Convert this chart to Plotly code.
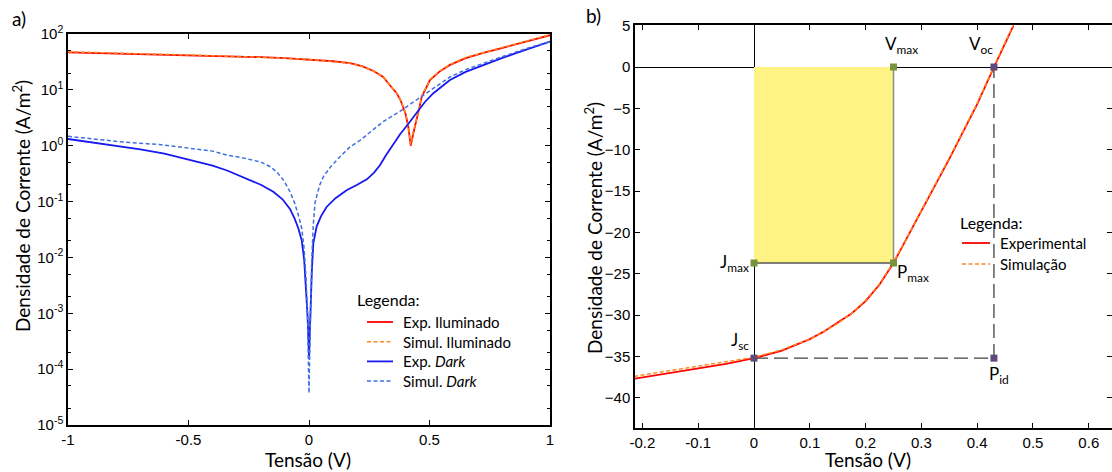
import plotly.graph_objects as go

# ---------------- Panel a) data (log scale) ----------------
v_exp_il = [-1, -0.9, -0.8, -0.7, -0.6, -0.5, -0.4, -0.3, -0.2, -0.1, 0, 0.1, 0.17, 0.22, 0.27, 0.308,
            0.34, 0.364, 0.38, 0.391, 0.40, 0.412, 0.422, 0.432, 0.447, 0.458, 0.468, 0.485, 0.502,
            0.54, 0.585, 0.65, 0.723, 0.8, 0.862, 0.93, 1.0]
j_exp_il = [47, 46, 45, 43.5, 42.5, 41.5, 40.5, 39.5, 38.5, 37, 35, 32.5, 30, 26.5, 21.5, 17,
            11.5, 8.7, 6.5, 5.0, 3.8, 2.2, 1.0, 1.6, 2.9, 4.8, 7.6, 11, 15,
            21, 28, 37, 46, 56, 66, 78, 95]

v_sim_il = [-1, -0.9, -0.8, -0.7, -0.6, -0.5, -0.4, -0.3, -0.2, -0.1, 0, 0.1, 0.17, 0.22, 0.27, 0.308,
            0.34, 0.364, 0.38, 0.391, 0.40, 0.412, 0.422, 0.432, 0.447, 0.458, 0.468, 0.485, 0.502,
            0.54, 0.585, 0.65, 0.723, 0.8, 0.862, 0.93, 1.0]
j_sim_il = [48, 46.5, 45.5, 44.5, 43.5, 42, 41, 40, 38.5, 37, 35, 32.5, 30, 26.5, 21.5, 17,
            11.5, 8.8, 6.6, 5.1, 3.9, 2.3, 1.05, 1.7, 3.0, 4.9, 7.8, 11.3, 15.3,
            21.5, 28.5, 38, 47, 57, 67, 80, 97]

v_exp_dk = [-1, -0.9, -0.8, -0.7, -0.6, -0.5, -0.4, -0.34, -0.27, -0.2, -0.148, -0.11, -0.079, -0.06,
            -0.044, -0.03, -0.02, -0.012, -0.006, -0.002, 0, 0.003, 0.007, 0.012, 0.018, 0.025, 0.032,
            0.05, 0.073, 0.11, 0.156, 0.2, 0.24, 0.27, 0.295, 0.32, 0.345, 0.378, 0.41, 0.447, 0.48,
            0.516, 0.55, 0.585, 0.65, 0.723, 0.8, 0.862, 0.93, 1.0]
j_exp_dk = [1.32, 1.15, 1.0, 0.86, 0.72, 0.57, 0.44, 0.36, 0.27, 0.2, 0.15, 0.11, 0.074, 0.05,
            0.033, 0.02, 0.009, 0.003, 0.0009, 0.0003, 0.00015, 0.0004, 0.0015, 0.006, 0.018, 0.028, 0.036,
            0.055, 0.08, 0.115, 0.16, 0.2, 0.25, 0.33, 0.45, 0.68, 0.98, 1.6, 2.4, 4.0, 6.0,
            8.7, 11.5, 15, 21, 28, 37, 46, 58, 73]

v_sim_dk = [-1, -0.9, -0.76, -0.62, -0.48, -0.4, -0.34, -0.27, -0.2, -0.16, -0.134, -0.105, -0.079,
            -0.06, -0.044, -0.03, -0.02, -0.012, -0.006, -0.002, 0, 0.002, 0.006, 0.011, 0.018, 0.025,
            0.035, 0.045, 0.06, 0.09, 0.129, 0.17, 0.212, 0.253, 0.308, 0.38, 0.447, 0.52, 0.585, 0.65,
            0.723, 0.8, 0.862, 0.93, 1.0]
j_sim_dk = [1.47, 1.32, 1.15, 1.05, 0.9, 0.8, 0.68, 0.6, 0.51, 0.42, 0.34, 0.24, 0.15,
            0.095, 0.057, 0.033, 0.014, 0.004, 0.0009, 0.00012, 0.000037, 0.00012, 0.0012, 0.008, 0.04, 0.095,
            0.14, 0.2, 0.28, 0.42, 0.64, 0.95, 1.25, 1.75, 2.7, 4.2, 6.6, 11, 17, 23,
            30, 39, 48, 60, 73]

# ---------------- Panel b) data (linear) ----------------
v_exp_b = [-0.215, -0.15, -0.1, -0.05, 0, 0.05, 0.1, 0.125, 0.15, 0.175, 0.2, 0.225, 0.25, 0.275, 0.3,
           0.35, 0.4, 0.43, 0.465]
j_exp_b = [-37.7, -37.0, -36.5, -35.9, -35.2, -34.3, -32.9, -32.0, -30.9, -29.8, -28.3, -26.3, -23.7, -20.6,
           -17.4, -11.1, -4.5, 0, 5.0]
v_sim_b = [-0.215, -0.15, -0.1, -0.05, 0, 0.05, 0.1, 0.125, 0.15, 0.175, 0.2, 0.225, 0.25, 0.275, 0.3,
           0.35, 0.4, 0.43, 0.465]
j_sim_b = [-37.4, -36.7, -36.2, -35.7, -35.1, -34.2, -32.9, -32.0, -31.0, -29.8, -28.2, -26.2, -23.6, -20.5,
           -17.3, -11.0, -4.4, 0.1, 5.1]

v_max, j_max = 0.25, -23.7
v_oc, j_sc = 0.43, -35.2

left_xticks = [-1, -0.5, 0, 0.5, 1]
left_xtext = ["-1", "-0.5", "0", "0.5", "1"]
left_yticks = [1e-5, 1e-4, 1e-3, 1e-2, 1e-1, 1, 10, 100]
left_ytext = ["10<sup>-5</sup>", "10<sup>-4</sup>", "10<sup>-3</sup>", "10<sup>-2</sup>",
              "10<sup>-1</sup>", "10<sup>0</sup>", "10<sup>1</sup>", "10<sup>2</sup>"]
right_xticks = [-0.2, -0.1, 0, 0.1, 0.2, 0.3, 0.4, 0.5, 0.6]
right_xtext = ["-0.2", "-0.1", "0", "0.1", "0.2", "0.3", "0.4", "0.5", "0.6"]
right_yticks = [5, 0, -5, -10, -15, -20, -25, -30, -35, -40]

legend_a_names = ["Exp. Iluminado", "Simul. Iluminado", "Exp. <i>Dark</i>", "Simul. <i>Dark</i>"]
legend_b_names = ["Experimental", "Simulação"]

RED = "#FF0000"
ORANGE = "#FF8A1E"
BLUE = "#1818F0"
LBLUE = "#3F6FE0"
GREEN = "#77933C"
PURPLE = "#5F4A7B"
SIMDASH = "4px,2.5px"
TXT = "Lato"
TICKF = dict(family="Liberation Sans", size=15, color="black")
W, H = 1112, 472


def px(x):
    return x / W


def py(y):
    return 1 - y / H


fig = go.Figure()

# Panel a traces
fig.add_trace(go.Scatter(x=v_exp_il, y=j_exp_il, mode="lines", name=legend_a_names[0],
                         line=dict(color=RED, width=1.8), xaxis="x", yaxis="y"))
fig.add_trace(go.Scatter(x=v_sim_il, y=j_sim_il, mode="lines", name=legend_a_names[1],
                         line=dict(color=ORANGE, width=1.5, dash=SIMDASH), xaxis="x", yaxis="y"))
fig.add_trace(go.Scatter(x=v_exp_dk, y=j_exp_dk, mode="lines", name=legend_a_names[2],
                         line=dict(color=BLUE, width=1.8), xaxis="x", yaxis="y"))
fig.add_trace(go.Scatter(x=v_sim_dk, y=j_sim_dk, mode="lines", name=legend_a_names[3],
                         line=dict(color=LBLUE, width=1.5, dash=SIMDASH), xaxis="x", yaxis="y"))

# Panel b: dashed guide lines
fig.add_trace(go.Scatter(x=[0, v_oc, v_oc], y=[j_sc, j_sc, 0], mode="lines",
                         line=dict(color="#404040", width=1.3, dash="14px,6px"),
                         xaxis="x2", yaxis="y2", hoverinfo="skip"))
# power rectangle
fig.add_trace(go.Scatter(x=[0, v_max, v_max, 0, 0], y=[0, 0, j_max, j_max, 0], mode="lines",
                         fill="toself", fillcolor="#FFF383", line=dict(width=0),
                         xaxis="x2", yaxis="y2", hoverinfo="skip"))
fig.add_trace(go.Scatter(x=[v_max, v_max], y=[0, j_max], mode="lines",
                         line=dict(color="#8C8C8C", width=1.5),
                         xaxis="x2", yaxis="y2", hoverinfo="skip"))
fig.add_trace(go.Scatter(x=[0, v_max], y=[j_max, j_max], mode="lines",
                         line=dict(color="#555555", width=1.3),
                         xaxis="x2", yaxis="y2", hoverinfo="skip"))

fig.add_trace(go.Scatter(x=v_exp_b, y=j_exp_b, mode="lines", name=legend_b_names[0],
                         line=dict(color=RED, width=1.8), xaxis="x2", yaxis="y2"))
fig.add_trace(go.Scatter(x=v_sim_b, y=j_sim_b, mode="lines", name=legend_b_names[1],
                         line=dict(color=ORANGE, width=1.5, dash=SIMDASH), xaxis="x2", yaxis="y2"))

# markers
fig.add_trace(go.Scatter(x=[v_max, 0, v_max], y=[0, j_max, j_max], mode="markers",
                         marker=dict(symbol="square", size=7, color=GREEN),
                         xaxis="x2", yaxis="y2"))
fig.add_trace(go.Scatter(x=[v_oc, 0, v_oc], y=[0, j_sc, j_sc], mode="markers",
                         marker=dict(symbol="square", size=7, color=PURPLE),
                         xaxis="x2", yaxis="y2"))

ann = []
shapes = []
lab = dict(family=TXT, size=17, color="black")
ann.append(dict(x=v_max, y=0, xref="x2", yref="y2", text="V<sub>max</sub>", showarrow=False,
                xanchor="center", yanchor="bottom", xshift=8, yshift=8, font=lab))
ann.append(dict(x=v_oc, y=0, xref="x2", yref="y2", text="V<sub>oc</sub>", showarrow=False,
                xanchor="center", yanchor="bottom", xshift=-13, yshift=8, font=lab))
ann.append(dict(x=0, y=j_max, xref="x2", yref="y2", text="J<sub>max</sub>", showarrow=False,
                xanchor="right", yanchor="middle", xshift=-3, yshift=0, font=lab))
ann.append(dict(x=v_max, y=j_max, xref="x2", yref="y2", text="P<sub>max</sub>", showarrow=False,
                xanchor="left", yanchor="middle", xshift=1, yshift=-10, font=lab))
ann.append(dict(x=0, y=j_sc, xref="x2", yref="y2", text="J<sub>sc</sub>", showarrow=False,
                xanchor="right", yanchor="bottom", xshift=-3, yshift=3, font=lab))
ann.append(dict(x=v_oc, y=j_sc, xref="x2", yref="y2", text="P<sub>id</sub>", showarrow=False,
                xanchor="left", yanchor="top", xshift=-7, yshift=-3, font=lab))
# panel letters
ann.append(dict(x=px(10), y=py(18), xref="paper", yref="paper", text="a)", showarrow=False,
                xanchor="left", yanchor="middle", font=dict(family=TXT, size=19, color="black")))
ann.append(dict(x=px(584), y=py(15), xref="paper", yref="paper", text="b)", showarrow=False,
                xanchor="left", yanchor="middle", font=dict(family=TXT, size=19, color="black")))
# axis titles
tf = dict(family=TXT, size=19, color="black")
ann.append(dict(x=px(308), y=py(459), xref="paper", yref="paper", text="Tensão (V)", showarrow=False,
                xanchor="center", yanchor="middle", font=tf))
ann.append(dict(x=px(868), y=py(459), xref="paper", yref="paper", text="Tensão (V)", showarrow=False,
                xanchor="center", yanchor="middle", font=tf))
ann.append(dict(x=px(22), y=py(206), xref="paper", yref="paper",
                text="Densidade de Corrente (A/m<sup>2</sup>)", showarrow=False, textangle=-90,
                xanchor="center", yanchor="middle", font=tf))
ann.append(dict(x=px(593), y=py(228), xref="paper", yref="paper",
                text="Densidade de Corrente (A/m<sup>2</sup>)", showarrow=False, textangle=-90,
                xanchor="center", yanchor="middle", font=tf))

# manual legends
legf = dict(family=TXT, size=15, color="black")
ann.append(dict(x=px(355), y=py(299), xref="paper", yref="paper", text="Legenda:", showarrow=False,
                xanchor="left", yanchor="middle", font=dict(family=TXT, size=16, color="black")))
leg_a_styles = [(RED, 1.8, "solid"), (ORANGE, 1.5, SIMDASH), (BLUE, 1.8, "solid"), (LBLUE, 1.5, SIMDASH)]
for i, (name, (c, w, d)) in enumerate(zip(legend_a_names, leg_a_styles)):
    yy = 322 + i * 19.7
    shapes.append(dict(type="line", xref="paper", yref="paper", x0=px(367), x1=px(393), y0=py(yy), y1=py(yy),
                       line=dict(color=c, width=w, dash=d)))
    ann.append(dict(x=px(401), y=py(yy), xref="paper", yref="paper", text=name, showarrow=False,
                    xanchor="left", yanchor="middle", font=legf))
ann.append(dict(x=px(958), y=py(222), xref="paper", yref="paper", text="Legenda:", showarrow=False,
                xanchor="left", yanchor="middle", font=dict(family=TXT, size=16, color="black")))
leg_b_styles = [(RED, 1.8, "solid"), (ORANGE, 1.5, SIMDASH)]
for i, (name, (c, w, d)) in enumerate(zip(legend_b_names, leg_b_styles)):
    yy = 243 + i * 21
    shapes.append(dict(type="line", xref="paper", yref="paper", x0=px(962), x1=px(990), y0=py(yy), y1=py(yy),
                       line=dict(color=c, width=w, dash=d)))
    ann.append(dict(x=px(998), y=py(yy), xref="paper", yref="paper", text=name, showarrow=False,
                    xanchor="left", yanchor="middle", font=legf))

axis_common = dict(showline=True, linecolor="black", linewidth=1.5, mirror="ticks", ticks="inside",
                   ticklen=5, tickwidth=1.2, tickcolor="black", showgrid=False, tickfont=TICKF,
                   automargin=False)

fig.update_layout(
    width=W, height=H,
    margin=dict(l=0, r=0, t=0, b=0),
    paper_bgcolor="white", plot_bgcolor="white",
    annotations=ann, shapes=shapes,
    showlegend=False,
    xaxis=dict(domain=[px(68), px(550)], range=[-1, 1], tickvals=left_xticks, ticktext=left_xtext,
               zeroline=False, anchor="y", **axis_common),
    yaxis=dict(domain=[py(425), py(34)], type="log", range=[-5, 2],
               tickvals=left_yticks, ticktext=left_ytext, zeroline=False, anchor="x",
               minor=dict(ticks="inside", ticklen=3, tickcolor="black", tickwidth=1),
               **axis_common),
    xaxis2=dict(domain=[px(635), 1.0], range=[-0.2133, 0.6416], tickvals=right_xticks, ticktext=right_xtext,
                zeroline=True, zerolinecolor="black", zerolinewidth=1, anchor="y2", **axis_common),
    yaxis2=dict(domain=[py(428), py(25)], range=[-43.65, 5.08], tickvals=right_yticks,
                zeroline=True, zerolinecolor="black", zerolinewidth=1, anchor="x2", **axis_common),
)

fig.write_html("out.html", config={"displayModeBar": False},
               post_script="document.body.style.margin='0px';document.body.style.overflow='hidden';")
